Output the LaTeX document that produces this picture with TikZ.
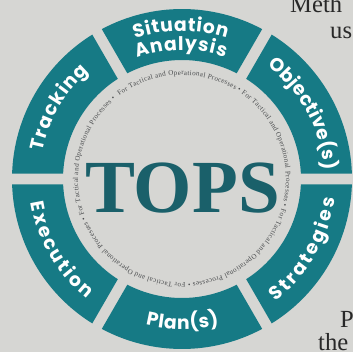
\documentclass[tikz,border=0pt]{standalone}
\usepackage{fontspec}
\setmainfont{Liberation Serif}
\newfontfamily\labelfont{Poppins}
\usetikzlibrary{decorations.text}

\definecolor{ringteal}{RGB}{22,122,133}
\definecolor{topsteal}{RGB}{26,96,106}
\definecolor{paper}{RGB}{214,214,211}
\definecolor{mottogray}{RGB}{72,74,76}
\definecolor{pageink}{RGB}{40,40,40}

\tikzset{
  segment/.style={fill=ringteal},
  seglabel/.style={decorate, decoration={text along path, text align=fit to path,
      text color=white, text={|\labelfont\bfseries\fontsize{16}{16}\selectfont|#1}}},
  motto/.style={decorate, decoration={text along path, text align=fit to path,
      text color=mottogray, text={|\fontsize{6}{6}\selectfont|#1}}},
  pagetext/.style={inner sep=0pt, anchor=base west, text=pageink, font=\fontsize{21}{21}\selectfont}
}

\begin{document}
\begin{tikzpicture}[x=0.03cm, y=0.03cm]
  \useasboundingbox (-182,-173) rectangle (171,179);
  \fill[paper] (-182,-173) rectangle (171,179);
  \clip (-182,-173) rectangle (171,179);

  \pgfmathsetmacro{\outR}{170}
  \pgfmathsetmacro{\inR}{119}
  \pgfmathsetmacro{\angout}{asin(5.5/\outR)}
  \pgfmathsetmacro{\angin}{asin(5.5/\inR)}

  % six ring pieces, cut apart by straight gaps
  \foreach \c in {90,30,-30,-90,-150,150} {
    \fill[segment] ({\c-30+\angout}:\outR) arc[start angle=\c-30+\angout, end angle=\c+30-\angout, radius=\outR]
      -- ({\c+30-\angin}:\inR) arc[start angle=\c+30-\angin, end angle=\c-30+\angin, radius=\inR] -- cycle;
  }

  % upper labels run clockwise, lower ones counterclockwise
  \path[seglabel=Situation] (108.6:148) arc[start angle=108.6, end angle=72.4, radius=148];
  \path[seglabel=Analysis] (110.4:129) arc[start angle=110.4, end angle=70.5, radius=129];
  \path[seglabel=Objective(s)] (53:142) arc[start angle=53, end angle=3.5, radius=142];
  \path[seglabel=Strategies] (-52.7:154) arc[start angle=-52.7, end angle=-7.3, radius=154];
  \path[seglabel=Plan(s)] (256:150) arc[start angle=256, end angle=284.4, radius=150];
  \path[seglabel=Execution] (189:153) arc[start angle=189, end angle=231.6, radius=153];
  \path[seglabel=Tracking] (168.7:142) arc[start angle=168.7, end angle=130.8, radius=142];

  \path[motto={For Tactical and Operational Processes • For Tactical and Operational Processes • For Tactical and Operational Processes • For Tactical and Operational Processes • For Tactical and Operational Processes •}]
    (127:104) arc[start angle=127, end angle=-230, radius=104];

  \node[text=topsteal, font=\fontsize{64}{64}\selectfont\bfseries] (tops) at (0.5,-9) {TOPS};

  % bits of the page around the figure
  \node[pagetext] (meth) at (108,167) {Meth};
  \node[pagetext] (us) at (148,141) {us};
  \node[pagetext] (p) at (158,-148) {P};
  \node[pagetext] (the) at (136,-171) {the};
\end{tikzpicture}
\end{document}
